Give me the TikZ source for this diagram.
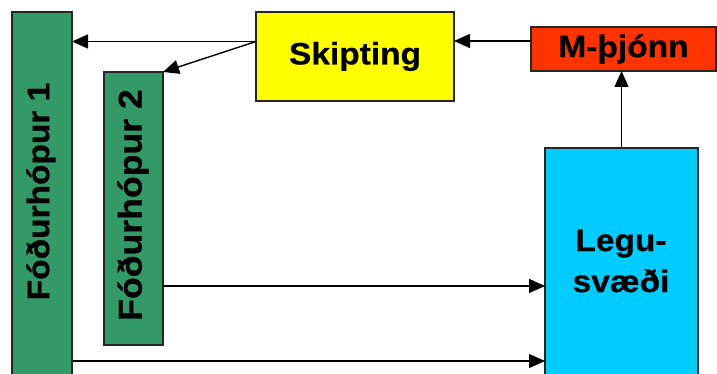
\documentclass[tikz,border=0pt]{standalone}
\usepackage{fontspec}
\setmainfont{Liberation Sans}[FakeStretch=1.08, BoldFeatures={FakeBold=0.6}]
\usetikzlibrary{arrows.meta}
\definecolor{grp}{HTML}{339966}
\definecolor{yel}{HTML}{FFFF00}
\definecolor{mred}{HTML}{FF3300}
\definecolor{lcyan}{HTML}{00CCFF}
\begin{document}
\begin{tikzpicture}[x=1pt,y=-1pt,
  box/.style={draw=black!85, line width=1.4pt, inner sep=0pt, outer sep=0pt},
  lbl/.style={font=\fontsize{31}{41}\selectfont\bfseries, inner sep=0pt, align=center},
  arr/.style={line width=1.4pt, -{Triangle[length=16pt,width=14pt]}}]
\useasboundingbox (0,0) rectangle (717,374);

% boxes
\node[box, fill=grp, minimum width=60pt, minimum height=368pt] (f1) at (42,196) {};
\node[box, fill=grp, minimum width=59pt, minimum height=273pt] (f2) at (133.5,208.5) {};
\node[box, fill=yel, minimum width=198pt, minimum height=89pt, lbl] (skip) at (355,56.5) {Skipting};
\node[box, fill=mred, minimum width=185pt, minimum height=44pt, lbl] (m) at (623.5,49) {M-þjónn};
\node[box, fill=lcyan, minimum width=153pt, minimum height=232pt] (legu) at (621.5,264) {};

% labels
\node[lbl, rotate=90] (f1t) at (41,191.5) {Fóðurhópur 1};
\node[lbl, rotate=90, font=\fontsize{33}{41}\selectfont\bfseries] (f2t) at (133,205) {Fóðurhópur 2};
\node[lbl] (legut) at (621,261) {Legu-\\svæði};

% connectors
\draw[arr] ([yshift=15pt]skip.west) -- ([yshift=15pt]skip.west -| f1.east);
\draw[arr] ([yshift=15pt]skip.west) -- (f2.north east);
\draw[arr] ([yshift=8pt]m.west) -- ([yshift=8pt]m.west -| skip.east);
\draw[arr] (legu.north) -- (legu.north |- m.south);
\draw[arr] ([yshift=-77.5pt]f2.east) -- ([yshift=-77.5pt]f2.east -| legu.west);
\draw[arr] ([yshift=-165pt]f1.east) -- ([yshift=-165pt]f1.east -| legu.west);
\end{tikzpicture}
\end{document}
